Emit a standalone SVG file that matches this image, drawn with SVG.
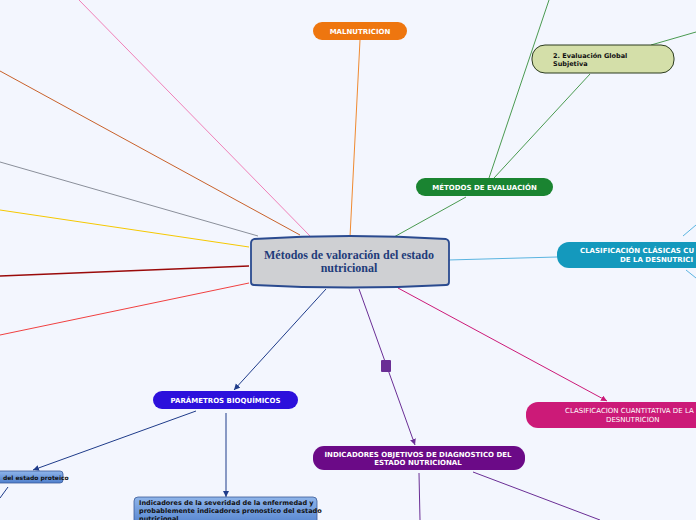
<svg xmlns="http://www.w3.org/2000/svg" width="696" height="520" viewBox="0 0 696 520">
<defs>
<style>
.lbl{font-family:"DejaVu Sans",Verdana,sans-serif;font-weight:bold;font-size:7px;fill:#fff;text-anchor:middle}
.lbln{font-family:"DejaVu Sans",Verdana,sans-serif;font-size:7px;fill:#fff;text-anchor:middle}
.dk{font-family:"DejaVu Sans",Verdana,sans-serif;font-weight:bold;font-size:6.5px;fill:#111}
.c{fill:none;stroke-width:1}
</style>
<marker id="ab" markerWidth="8" markerHeight="8" refX="6" refY="3" orient="auto" markerUnits="userSpaceOnUse"><path d="M0,0 L6,3 L0,6 Z" fill="#1f3c8a"/></marker>
<marker id="ap" markerWidth="8" markerHeight="8" refX="6" refY="3" orient="auto" markerUnits="userSpaceOnUse"><path d="M0,0 L6,3 L0,6 Z" fill="#6a2e95"/></marker>
<marker id="am" markerWidth="8" markerHeight="8" refX="6" refY="3" orient="auto" markerUnits="userSpaceOnUse"><path d="M0,0 L6,3 L0,6 Z" fill="#cc1a78"/></marker>
<linearGradient id="gb" x1="0" y1="0" x2="0" y2="1"><stop offset="0" stop-color="#8fb5ea"/><stop offset="1" stop-color="#4f7fcc"/></linearGradient>
</defs>
<rect width="696" height="520" fill="#f3f6fe"/>
<g id="connectors">
<line class="c" x1="79" y1="0" x2="310" y2="236" stroke="#f080b8"/>
<line class="c" x1="0" y1="71" x2="300" y2="235" stroke="#c8612a"/>
<line class="c" x1="0" y1="162" x2="258" y2="236" stroke="#8a8f9a"/>
<line class="c" x1="0" y1="210" x2="249" y2="247" stroke="#f5c800"/>
<line x1="0" y1="276" x2="249" y2="266" stroke="#9a0a0a" stroke-width="1.4"/>
<line class="c" x1="0" y1="335" x2="249" y2="283" stroke="#f04040"/>
<line class="c" x1="360" y1="40" x2="350" y2="237" stroke="#f08a30"/>
<line class="c" x1="466" y1="197" x2="394" y2="237" stroke="#4a9a50"/>
<line class="c" x1="489" y1="178" x2="549" y2="0" stroke="#4a9a50"/>
<line class="c" x1="494" y1="178" x2="590" y2="74" stroke="#4a9a50"/>
<line class="c" x1="651" y1="45" x2="696" y2="32" stroke="#4a9a50"/>
<line class="c" x1="448" y1="260" x2="557" y2="257" stroke="#5ab4e0"/>
<line class="c" x1="683" y1="236" x2="696" y2="225" stroke="#5ab4e0"/>
<line class="c" x1="686" y1="270" x2="696" y2="278" stroke="#5ab4e0"/>
<line class="c" x1="398" y1="288" x2="607" y2="401" stroke="#cc1a78" marker-end="url(#am)"/>
<line class="c" x1="359" y1="289" x2="415" y2="445" stroke="#6a2e95" marker-end="url(#ap)"/>
<rect x="381" y="360" width="10" height="12" rx="1" fill="#6a2e95"/>
<line class="c" x1="419" y1="473" x2="420" y2="520" stroke="#6a2e95"/>
<line class="c" x1="473" y1="472" x2="600" y2="520" stroke="#6a2e95"/>
<line class="c" x1="326" y1="289" x2="234" y2="390" stroke="#1f3c8a" marker-end="url(#ab)"/>
<line class="c" x1="196" y1="411" x2="33" y2="470" stroke="#1f3c8a" marker-end="url(#ab)"/>
<line class="c" x1="226" y1="413" x2="226" y2="497" stroke="#1f3c8a" marker-end="url(#ab)"/>
<line class="c" x1="8" y1="487" x2="0" y2="498" stroke="#1f3c8a"/>
</g>
<g id="central">
<path d="M254,239 Q350,233 446,239 Q449,240 449,243 L449,282 Q449,285 446,285 Q350,290 254,285 Q251,285 251,282 L251,243 Q251,240 254,239 Z" fill="#cfd0d3" stroke="#2a4a8f" stroke-width="1.8"/>
<text x="349" y="258.5" text-anchor="middle" font-family="Liberation Serif,serif" font-weight="bold" font-size="12" fill="#1f3c7a">Métodos de valoración del estado</text>
<text x="349" y="271.5" text-anchor="middle" font-family="Liberation Serif,serif" font-weight="bold" font-size="12" fill="#1f3c7a">nutricional</text>
</g>
<g id="malnutricion">
<rect x="313" y="22" width="94" height="18" rx="9" fill="#ee760f"/>
<text class="lbl" x="360" y="33.5">MALNUTRICION</text>
</g>
<g id="metodos-evaluacion">
<rect x="416" y="178" width="137" height="18" rx="9" fill="#1a8431"/>
<text class="lbl" x="484.5" y="189.5">MÉTODOS DE EVALUACIÓN</text>
</g>
<g id="evaluacion-global">
<rect x="532" y="45" width="142" height="28" rx="13" fill="#d4dfa9" stroke="#2b3b1f" stroke-width="1"/>
<text class="dk" x="553" y="57.5">2. Evaluación Global</text>
<text class="dk" x="553" y="65.5">Subjetiva</text>
</g>
<g id="clasificacion-clasicas">
<rect x="557" y="242" width="160" height="26" rx="12" fill="#1499bd"/>
<text class="lbl" x="580" y="253" style="text-anchor:start">CLASIFICACIÓN CLÁSICAS CU</text>
<text class="lbl" x="620" y="262" style="text-anchor:start">DE LA DESNUTRICI</text>
</g>
<g id="clasificacion-cuantitativa">
<rect x="526" y="402" width="190" height="26" rx="12" fill="#cc1a78"/>
<text class="lbln" x="565" y="413" style="text-anchor:start">CLASIFICACION CUANTITATIVA DE LA</text>
<text class="lbln" x="606" y="422" style="text-anchor:start">DESNUTRICION</text>
</g>
<g id="indicadores-objetivos">
<rect x="313" y="446" width="212" height="24" rx="11" fill="#6b0a87"/>
<text class="lbl" x="418" y="456.5">INDICADORES OBJETIVOS DE DIAGNOSTICO DEL</text>
<text class="lbl" x="418" y="465">ESTADO NUTRICIONAL</text>
</g>
<g id="parametros-bioquimicos">
<rect x="153" y="391" width="145" height="18" rx="9" fill="#2c10dc"/>
<text class="lbl" x="225.5" y="402.5">PARÁMETROS BIOQUÍMICOS</text>
</g>
<g id="estado-proteico">
<rect x="-20" y="471" width="83" height="12" rx="3" fill="url(#gb)" stroke="#3a5a9a" stroke-width="0.8"/>
<text class="dk" x="3" y="479.5" style="font-size:6px">del estado proteico</text>
</g>
<g id="indicadores-severidad">
<rect x="134" y="497" width="183" height="30" rx="4" fill="url(#gb)" stroke="#3b5b97" stroke-width="0.8"/>
<text class="dk" x="139" y="505">Indicadores de la severidad de la enfermedad y</text>
<text class="dk" x="139" y="513">probablemente indicadores pronostico del estado</text>
<text class="dk" x="139" y="520.5">nutricional</text>
</g>
</svg>
